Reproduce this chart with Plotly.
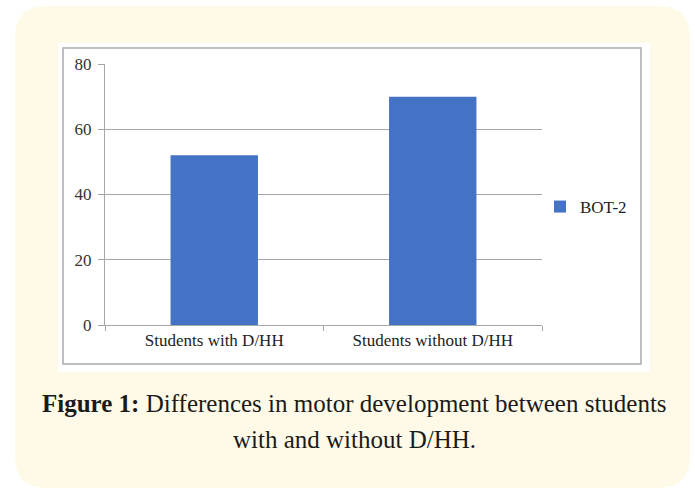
import plotly.graph_objects as go

categories = ["Students with D/HH", "Students without D/HH"]
bot2_values = [52, 70]
series_name = "BOT-2"
y_ticks = [0, 20, 40, 60, 80]
caption_line1 = "<b>Figure 1:</b> Differences in motor development between students"
caption_line2 = "with and without D/HH."

W, H = 695, 489
PL, PR, PT, PB = 105, 542, 64, 325  # plot area in pixels


def px(x):
    return (x - PL) / (PR - PL)


def py(y):
    return (PB - y) / (PB - PT)


def rounded_path(x0, y0, x1, y1, r):
    X0, X1 = px(x0), px(x1)
    Y0, Y1 = py(y0), py(y1)
    rx = r / (PR - PL)
    ry = r / (PB - PT)
    return (
        f"M {X0+rx},{Y0} L {X1-rx},{Y0} Q {X1},{Y0} {X1},{Y0-ry} "
        f"L {X1},{Y1+ry} Q {X1},{Y1} {X1-rx},{Y1} "
        f"L {X0+rx},{Y1} Q {X0},{Y1} {X0},{Y1+ry} "
        f"L {X0},{Y0-ry} Q {X0},{Y0} {X0+rx},{Y0} Z"
    )


fig = go.Figure()
fig.add_trace(go.Bar(
    x=categories, y=bot2_values, name=series_name,
    marker=dict(color="#4472c4", line=dict(width=0)),
    showlegend=True,
))

shapes = [
    dict(type="path", xref="paper", yref="paper", layer="below",
         path=rounded_path(15, 6, 690, 488, 32),
         fillcolor="#fffae8", line=dict(width=0)),
    dict(type="rect", xref="paper", yref="paper", layer="below",
         x0=px(58), x1=px(650), y0=py(43), y1=py(372),
         fillcolor="white", line=dict(width=0)),
    dict(type="rect", xref="paper", yref="paper", layer="below",
         x0=px(63), x1=px(641), y0=py(48), y1=py(364),
         fillcolor="white", line=dict(color="#ababab", width=1.5)),
]

serif = "Liberation Serif"
fig.update_layout(
    width=W, height=H,
    margin=dict(l=PL, r=W - PR, t=PT, b=H - PB, pad=0),
    paper_bgcolor="white", plot_bgcolor="rgba(0,0,0,0)",
    bargap=0.6,
    shapes=shapes,
    font=dict(family=serif, color="#333333", size=17),
    legend=dict(x=px(540), y=py(207), xanchor="left", yanchor="middle",
                bgcolor="rgba(0,0,0,0)", font=dict(family=serif, size=17, color="#222"),
                itemwidth=30),
    annotations=[
        dict(text=caption_line1, xref="paper", yref="paper", x=px(354), y=py(404),
             xanchor="center", yanchor="middle", showarrow=False,
             font=dict(family=serif, size=25, color="#1a1a1a")),
        dict(text=caption_line2, xref="paper", yref="paper", x=px(354), y=py(439),
             xanchor="center", yanchor="middle", showarrow=False,
             font=dict(family=serif, size=25, color="#1a1a1a")),
    ],
)
fig.update_yaxes(
    range=[0, 80], tickvals=y_ticks, showgrid=True, gridcolor="#a6a6a6", gridwidth=1,
    showline=True, linecolor="#a6a6a6", linewidth=1, ticks="outside", ticklen=6,
    tickcolor="#a6a6a6", zeroline=False, ticklabelstandoff=3,
    tickfont=dict(family=serif, size=17, color="#333"), fixedrange=True,
)
fig.update_xaxes(
    showline=True, linecolor="#a6a6a6", linewidth=1, ticks="outside", ticklen=5,
    tickcolor="#a6a6a6", tickson="boundaries", showgrid=False,
    tickfont=dict(family=serif, size=17, color="#222"), fixedrange=True,
)

fig.write_html("out.html", config={"displayModeBar": False},
               post_script="document.body.style.margin='0';")
